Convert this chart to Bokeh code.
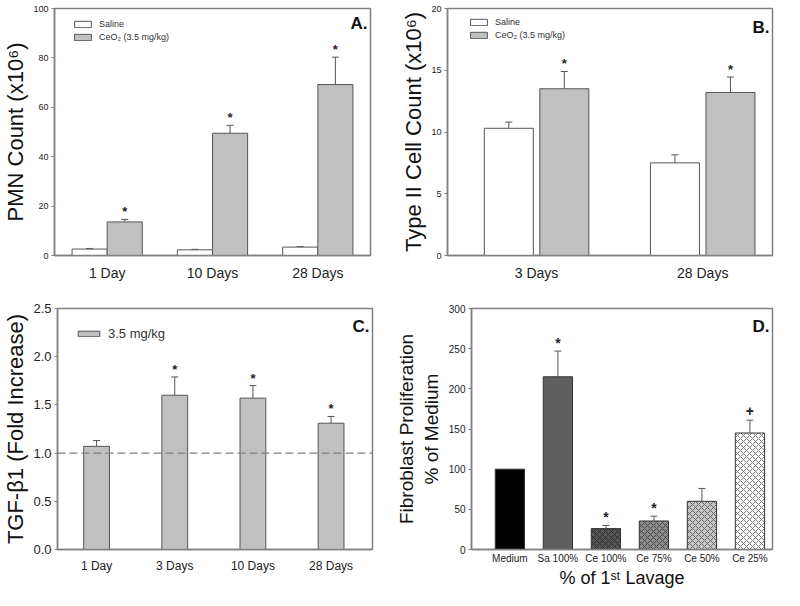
from bokeh.plotting import figure
from bokeh.layouts import column, row
from bokeh.models import (ColumnDataSource, Whisker, TeeHead, Span, Label,
                          Legend, LegendItem, FixedTicker, Range1d, NumeralTickFormatter)
from bokeh.core.properties import value
from bokeh.embed import file_html
from bokeh.resources import INLINE

# ---------------- data ----------------
# Panel A: PMN count (x10^6)
a_days = ["1 Day", "10 Days", "28 Days"]
a_saline = [2.6, 2.3, 3.4]
a_saline_err = [0.25, 0.2, 0.2]
a_ceo2 = [13.6, 49.5, 69.2]
a_ceo2_err = [1.0, 3.2, 11.1]
a_marks = ["*", "*", "*"]

# Panel B: Type II cell count (x10^6)
b_days = ["3 Days", "28 Days"]
b_saline = [10.3, 7.5]
b_saline_err = [0.5, 0.65]
b_ceo2 = [13.5, 13.2]
b_ceo2_err = [1.4, 1.25]
b_marks = ["*", "*"]

# Panel C: TGF-beta1 fold increase
c_days = ["1 Day", "3 Days", "10 Days", "28 Days"]
c_tgf = [1.07, 1.60, 1.57, 1.31]
c_tgf_err = [0.06, 0.19, 0.13, 0.07]
c_marks = ["", "*", "*", "*"]

# Panel D: fibroblast proliferation (% of medium)
d_groups = ["Medium", "Sa 100%", "Ce 100%", "Ce 75%", "Ce 50%", "Ce 25%"]
d_prolif = [100, 215, 26, 35.5, 60, 145]
d_err = [0, 32, 4, 6, 16, 16]
d_marks = ["", "*", "*", "*", "", "+"]

FONT = "Liberation Sans"
FRAME = "#808080"
EDGE = "#555555"
GREY = "#c0c0c0"


def mark_offsets(marks):
    return [0 if m == "*" else -4 for m in marks]


def base_fig(w, h, xr, yr, borders, yticks, xlabels, xfont, yfont, ylabel, ylabel_size):
    left, right, top, bottom = borders
    p = figure(width=w, height=h, x_range=Range1d(*xr), y_range=Range1d(*yr),
               output_backend="svg", toolbar_location=None,
               min_border_left=left, min_border_right=right,
               min_border_top=top, min_border_bottom=bottom)
    p.grid.visible = False
    p.outline_line_color = FRAME
    p.outline_line_width = 1.5
    p.background_fill_color = "white"
    p.border_fill_color = "white"
    # y axis
    p.yaxis.ticker = FixedTicker(ticks=yticks, minor_ticks=[])
    p.yaxis.axis_line_color = FRAME
    p.yaxis.axis_line_width = 1.5
    p.yaxis.major_tick_line_color = FRAME
    p.yaxis.major_tick_in = 0
    p.yaxis.major_tick_out = 3
    p.yaxis.minor_tick_line_color = None
    p.yaxis.minor_tick_in = 0
    p.yaxis.minor_tick_out = 0
    p.yaxis.major_label_text_font = FONT
    p.yaxis.major_label_text_font_size = yfont
    p.yaxis.major_label_text_color = "#222222"
    p.yaxis.major_label_standoff = 3
    p.yaxis.axis_label = ylabel
    p.yaxis.axis_label_text_font = FONT
    p.yaxis.axis_label_text_font_style = "normal"
    p.yaxis.axis_label_text_font_size = ylabel_size
    p.yaxis.axis_label_text_color = "#111111"
    p.yaxis.axis_label_standoff = 2
    # x axis
    p.xaxis.ticker = FixedTicker(ticks=list(range(len(xlabels))), minor_ticks=[])
    p.xaxis.major_label_overrides = {i: t for i, t in enumerate(xlabels)}
    p.xaxis.axis_line_color = FRAME
    p.xaxis.axis_line_width = 1.5
    p.xaxis.major_tick_line_color = None
    p.xaxis.minor_tick_line_color = None
    p.xaxis.major_tick_in = 0
    p.xaxis.major_tick_out = 0
    p.xaxis.minor_tick_in = 0
    p.xaxis.minor_tick_out = 0
    p.xaxis.major_label_text_font = FONT
    p.xaxis.major_label_text_font_size = xfont
    p.xaxis.major_label_text_color = "#222222"
    p.xaxis.major_label_standoff = 9
    return p


def add_bars(p, xs, tops, errs, width, fill, marks=None, star_size="13px"):
    src = ColumnDataSource(dict(x=xs, top=tops))
    r = p.vbar(x="x", top="top", bottom=0, width=width, source=src,
               fill_color=fill, line_color=EDGE, line_width=1)
    keep = [i for i, e in enumerate(errs) if e > 0]
    wsrc = ColumnDataSource(dict(x=[xs[i] for i in keep],
                                 lo=[tops[i] for i in keep],
                                 hi=[tops[i] + errs[i] for i in keep]))
    p.add_layout(Whisker(source=wsrc, base="x", lower="lo", upper="hi",
                         dimension="height", line_color=EDGE, line_width=1,
                         lower_head=None,
                         upper_head=TeeHead(size=7, line_color=EDGE, line_width=1)))
    if marks is not None:
        msrc = ColumnDataSource(dict(x=xs, y=[t + e for t, e in zip(tops, errs)], m=marks,
                                     off=mark_offsets(marks)))
        p.text(x="x", y="y", text="m", source=msrc, text_align="center",
               text_baseline="bottom", text_font=value(FONT),
               text_font_size=star_size, text_font_style="bold", text_color="#222222",
               y_offset="off")
    return r


def panel_label(p, txt, xr, yr, frame_w, frame_h, dy):
    xpx = (xr[1] - xr[0]) / frame_w
    ypx = (yr[1] - yr[0]) / frame_h
    p.add_layout(Label(x=xr[1] - 3 * xpx, y=yr[1] - dy * ypx, text=txt,
                       text_align="right", text_baseline="top",
                       text_font=FONT, text_font_style="bold",
                       text_font_size="17px", text_color="#111111"))


def style_legend(lg, gw, gh, fs, location, margin, padding):
    lg.location = location
    lg.background_fill_alpha = 0
    lg.border_line_alpha = 0
    lg.glyph_width = gw
    lg.glyph_height = gh
    lg.label_height = 10
    lg.label_text_font = FONT
    lg.label_text_font_size = fs
    lg.label_text_color = "#333333"
    lg.label_standoff = 6
    lg.spacing = 3
    lg.margin = margin
    lg.padding = padding


TOP_H, BOT_H = 300, 290
TOP_FRAME = TOP_H - 8 - 45

# ---------------- Panel A ----------------
xrA = (-0.5, 2.5)
yrA = (0, 100)
pA = base_fig(392, TOP_H, xrA, yrA, (47, 22, 8, 45), [0, 20, 40, 60, 80, 100],
              a_days, "14px", "9px", "PMN Count (x10\u2076)", "22px")
xa = list(range(len(a_days)))
rA1 = add_bars(pA, [x - 1 / 6 for x in xa], a_saline, a_saline_err, 1 / 3, "white")
rA2 = add_bars(pA, [x + 1 / 6 for x in xa], a_ceo2, a_ceo2_err, 1 / 3, GREY, marks=a_marks)
lgA = Legend(items=[LegendItem(label="Saline", renderers=[rA1]),
                    LegendItem(label="CeO\u2082 (3.5 mg/kg)", renderers=[rA2])])
style_legend(lgA, 21, 8, "9px", (18, TOP_FRAME - 11 - 23), 0, 0)
pA.add_layout(lgA)
panel_label(pA, "A.", xrA, yrA, 323, TOP_FRAME, 5)

# ---------------- Panel B ----------------
xrB = (-0.536, 1.42)
yrB = (0, 20)
pB = base_fig(392, TOP_H, xrB, yrB, (55, 12, 8, 45), [0, 5, 10, 15, 20],
              b_days, "14px", "9px", "Type II Cell Count (x10\u2076)", "22px")
xb = list(range(len(b_days)))
rB1 = add_bars(pB, [x - 0.167 for x in xb], b_saline, b_saline_err, 0.295, "white")
rB2 = add_bars(pB, [x + 0.167 for x in xb], b_ceo2, b_ceo2_err, 0.295, GREY, marks=b_marks)
lgB = Legend(items=[LegendItem(label="Saline", renderers=[rB1]),
                    LegendItem(label="CeO\u2082 (3.5 mg/kg)", renderers=[rB2])])
style_legend(lgB, 21, 8, "9px", (21, TOP_FRAME - 9 - 23), 0, 0)
pB.add_layout(lgB)
panel_label(pB, "B.", xrB, yrB, 325, TOP_FRAME, 9)

# ---------------- Panel C ----------------
xrC = (-0.5, 3.53)
yrC = (0, 2.5)
pC = base_fig(392, BOT_H, xrC, yrC, (51, 20, 8, 37), [0, 0.5, 1.0, 1.5, 2.0, 2.5],
              c_days, "12px", "13px", "TGF-\u03b21 (Fold Increase)", "22px")
pC.yaxis.formatter = NumeralTickFormatter(format="0.0")
xc = list(range(len(c_days)))
pC.add_layout(Span(location=1.0, dimension="width", line_color="#808080",
                   line_width=1.2, line_dash="8 4"))
rC = add_bars(pC, xc, c_tgf, c_tgf_err, 0.33, GREY, marks=c_marks)
lgC = Legend(items=[LegendItem(label="3.5 mg/kg", renderers=[rC])])
style_legend(lgC, 27, 7, "13px", "top_left", 12, 6)
pC.add_layout(lgC)
panel_label(pC, "C.", xrC, yrC, 321, 245, 9)

# ---------------- Panel D ----------------
xrD = (-0.8, 5.47)
yrD = (0, 300)
pD = base_fig(392, BOT_H, xrD, yrD, (73, 12, 8, 37), [0, 50, 100, 150, 200, 250, 300],
              d_groups, "10px", "10px", "Fibroblast Proliferation\n% of Medium", "19px")
pD.yaxis.axis_label_standoff = 4
pD.xaxis.major_label_standoff = 3
pD.xaxis.axis_label = "% of 1\u02e2\u1d57 Lavage"
pD.xaxis.axis_label_text_font = FONT
pD.xaxis.axis_label_text_font_style = "normal"
pD.xaxis.axis_label_text_font_size = "18px"
pD.xaxis.axis_label_text_color = "#111111"
pD.xaxis.axis_label_standoff = 1
xd = list(range(len(d_groups)))
d_fill = ["#000000", "#5f5f5f", "#555555", "#8c8c8c", "#c6c6c6", "#ffffff"]
d_hatch = [" ", " ", "diagonal_cross", "diagonal_cross", "diagonal_cross", "diagonal_cross"]
d_hatch_color = ["#000000", "#000000", "#2e2e2e", "#4a4a4a", "#6a6a6a", "#7a7a7a"]
srcD = ColumnDataSource(dict(x=xd, top=d_prolif, fill=d_fill, hatch=d_hatch, hc=d_hatch_color))
pD.vbar(x="x", top="top", bottom=0, width=0.61, source=srcD, fill_color="fill",
        line_color="#333333", line_width=1, hatch_pattern="hatch", hatch_color="hc",
        hatch_scale=6, hatch_weight=1)
keep = [i for i, e in enumerate(d_err) if e > 0]
wD = ColumnDataSource(dict(x=[xd[i] for i in keep], lo=[d_prolif[i] for i in keep],
                           hi=[d_prolif[i] + d_err[i] for i in keep]))
pD.add_layout(Whisker(source=wD, base="x", lower="lo", upper="hi", dimension="height",
                      line_color=EDGE, line_width=1, lower_head=None,
                      upper_head=TeeHead(size=7, line_color=EDGE, line_width=1)))
mD = ColumnDataSource(dict(x=xd, y=[t + e for t, e in zip(d_prolif, d_err)], m=d_marks,
                           off=mark_offsets(d_marks)))
pD.text(x="x", y="y", text="m", source=mD, text_align="center", text_baseline="bottom",
        text_font=value(FONT), text_font_size="14px", text_font_style="bold",
        text_color="#222222", y_offset="off")
panel_label(pD, "D.", xrD, yrD, 307, 245, 9)

layout = column(row(pA, pB), row(pC, pD))
open("out.html", "w").write(file_html(layout, INLINE))
